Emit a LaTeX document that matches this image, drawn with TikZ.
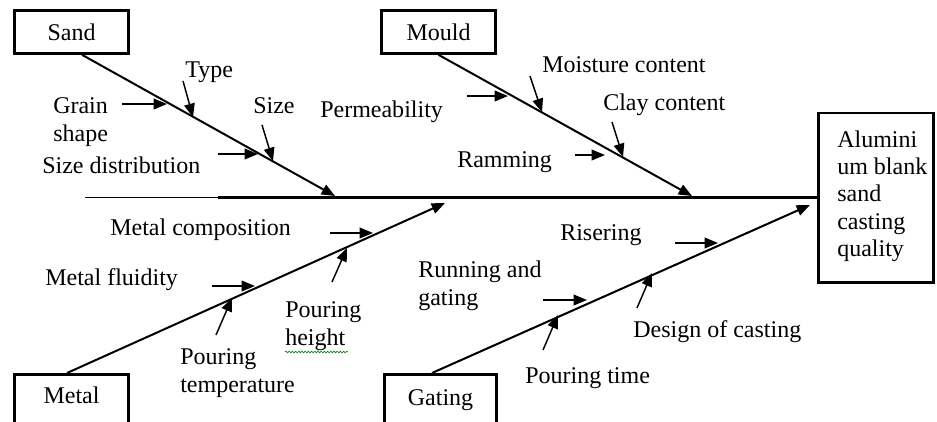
\documentclass[tikz,border=0pt]{standalone}
\usepackage{fontspec}
\setmainfont{Liberation Serif}
\usetikzlibrary{arrows.meta,calc,decorations.pathmorphing}
\begin{document}
\begin{tikzpicture}[x=0.75pt,y=-0.75pt,
  every node/.style={inner sep=0pt, font=\fontsize{18}{20.5}\selectfont},
  lbl/.style={anchor=base west, align=left},
  cat/.style={draw, line width=2.2pt, minimum width=85.5pt, anchor=base, text height=22pt, text depth=10pt},
  bone/.style={line width=1.5pt, -{Triangle[length=10pt,width=8pt]}},
  rib/.style={line width=1.1pt, -{Triangle[length=10pt,width=8pt]}},
  spell/.style={draw=green!55!black, line width=0.5pt, decorate, decoration={snake, amplitude=0.6pt, segment length=2.4pt}}
]
\clip (0,0) rectangle (937,421);
\fill[white] (0,0) rectangle (937,421);

% category boxes
\node[cat] (sand) at (71.5,40) {Sand};
\node[cat] (mould) at (438.5,40) {Mould};
\node[cat, text height=21.4pt, text depth=25pt] (metal) at (71.5,403) {Metal};
\node[cat, minimum width=84pt, text height=22.9pt, text depth=25pt] (gating) at (440.5,405) {Gating};

% effect box
\node[draw, line width=1.9pt, minimum width=86.6pt, minimum height=127.1pt] (out) at (876,197.5) {};
\node[anchor=west, align=left] (outtxt) at (837,196) {Alumini\\um blank\\sand\\casting\\quality};

% spine
\coordinate (spL) at (85,197.5);
\coordinate (spM) at (218,197.5);
\draw[line width=1.1pt] (spL) -- (spM);
\draw[line width=2.25pt] (spM) -- (out.west);

% main bones
\coordinate (sandtip) at (335,196);
\coordinate (mouldtip) at (692,196);
\coordinate (metaltip) at (445,203);
\coordinate (gatingtip) at (810,205);
\draw[bone] (sand.south -| 82,0) -- (sandtip);
\draw[bone] (mould.south) -- (mouldtip);
\draw[bone] (metal.north -| 67,0) -- (metaltip);
\draw[bone] (gating.north -| 432,0) -- (gatingtip);

% labels (multi-line labels are anchored at the baseline of their last line)
\node[lbl] (type) at (185,77) {Type};
\node[lbl] (grain) at (53,141) {Grain\\shape};
\node[lbl] (size) at (253,113) {Size};
\node[lbl] (sizedist) at (42,173) {Size distribution};
\node[lbl] (moist) at (542,72) {Moisture content};
\node[lbl] (perm) at (320,117) {Permeability};
\node[lbl] (clay) at (603,110) {Clay content};
\node[lbl] (ram) at (457,167) {Ramming};
\node[lbl] (mcomp) at (110,235) {Metal composition};
\node[lbl] (mflu) at (45,285) {Metal fluidity};
\node[lbl] (ptemp) at (180,392) {Pouring\\temperature};
\node[lbl] (pheight) at (285,345) {Pouring\\height};
\node[lbl] (riser) at (560,240) {Risering};
\node[lbl] (run) at (418,305) {Running and\\gating};
\node[lbl] (ptime) at (525,383) {Pouring time};
\node[lbl] (design) at (633,337) {Design of casting};

% spell-check underline
\coordinate (spA) at (285,352);
\coordinate (spB) at (348,352);
\draw[spell] (spA) -- (spB);

% ribs: sand
\coordinate (gA) at (122,104); \coordinate (gB) at (167,104);
\coordinate (tA) at (183,81);  \coordinate (tB) at (193,117);
\coordinate (dA) at (218,154); \coordinate (dB) at (258,154);
\coordinate (sA) at (262,125); \coordinate (sB) at (273,161);
% ribs: mould
\coordinate (pA) at (467,96);  \coordinate (pB) at (508,96);
\coordinate (oA) at (530,76);  \coordinate (oB) at (542,112);
\coordinate (rA) at (575,155); \coordinate (rB) at (605,155);
\coordinate (cA) at (612,122); \coordinate (cB) at (623,157);
% ribs: metal
\coordinate (mcA) at (330,233); \coordinate (mcB) at (373,233);
\coordinate (mfA) at (212,286); \coordinate (mfB) at (255,286);
\coordinate (ptA) at (216,335); \coordinate (ptB) at (232,298);
\coordinate (phA) at (332,282); \coordinate (phB) at (347,248);
% ribs: gating
\coordinate (riA) at (675,243); \coordinate (riB) at (718,243);
\coordinate (ruA) at (543,300); \coordinate (ruB) at (587,300);
\coordinate (tiA) at (543,350); \coordinate (tiB) at (558,315);
\coordinate (deA) at (637,308); \coordinate (deB) at (652,273);

\foreach \a/\b in {gA/gB,tA/tB,dA/dB,sA/sB,pA/pB,oA/oB,rA/rB,cA/cB,mcA/mcB,mfA/mfB,ptA/ptB,phA/phB,riA/riB,ruA/ruB,tiA/tiB,deA/deB}
  \draw[rib] (\a) -- (\b);
\end{tikzpicture}
\end{document}
